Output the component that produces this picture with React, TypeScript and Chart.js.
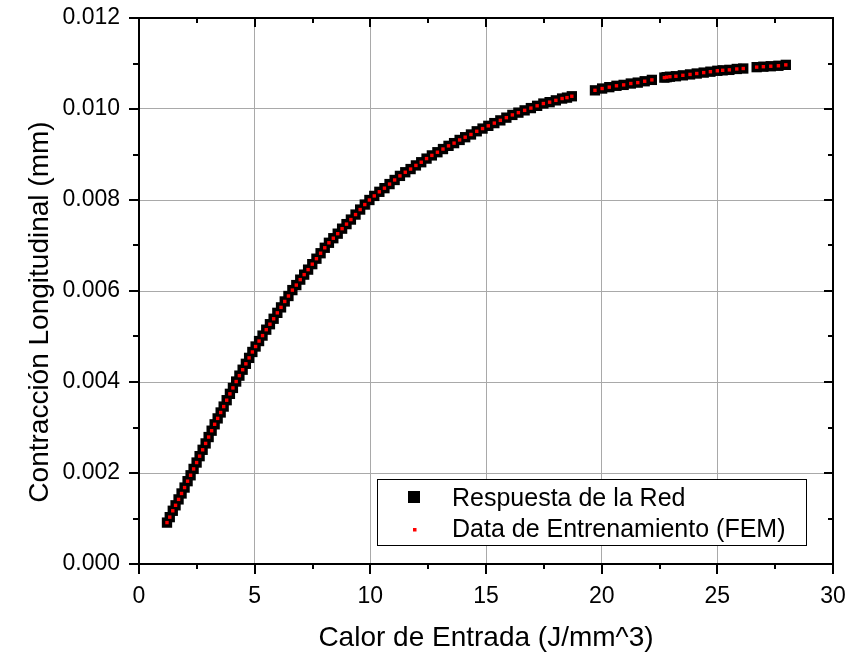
import React, { useEffect, useRef } from "react";
import { Chart, registerables } from "chart.js";

Chart.register(...registerables);

// Heat input (x) values
const heatInput = [
  1.21, 1.33, 1.46, 1.58, 1.71, 1.84, 1.97, 2.1, 2.23, 2.36, 2.49, 2.62, 2.75, 2.88, 3.01, 3.14, 3.27, 3.4, 3.53, 3.66,
  3.79, 3.93, 4.06, 4.2, 4.34, 4.48, 4.62, 4.76, 4.9,
  5.04, 5.19, 5.34, 5.5, 5.66, 5.82, 5.98, 6.14, 6.3, 6.46, 6.63, 6.8, 6.97, 7.14, 7.31, 7.49, 7.67, 7.85, 8.03, 8.21,
  8.4, 8.59, 8.78, 8.97, 9.16, 9.36, 9.56, 9.76, 9.96,
  10.17, 10.39, 10.61, 10.83, 11.05, 11.28, 11.51, 11.74, 11.97, 12.2, 12.43, 12.66, 12.9, 13.14, 13.38, 13.62, 13.86,
  14.1, 14.35, 14.6, 14.85,
  15.1, 15.36, 15.62, 15.88, 16.14, 16.4, 16.67, 16.94, 17.21, 17.48, 17.75, 18.02, 18.29, 18.5, 18.71,
  19.71, 20.02, 20.33, 20.64, 20.95, 21.26, 21.56, 21.86, 22.17,
  22.71, 22.81, 22.95, 23.21, 23.51, 23.82, 24.11, 24.41, 24.7, 25.0, 25.23, 25.52, 25.84, 26.12,
  26.7, 26.99, 27.31, 27.64, 27.96,
];

// FEM training data (red dots)
const contractionFEM = [
  0.00091, 0.00103, 0.00117, 0.00129, 0.00142, 0.00155, 0.00168, 0.00182, 0.00195, 0.00209, 0.00223, 0.00237, 0.00251,
  0.00265, 0.00279, 0.00293, 0.00307, 0.0032, 0.00333, 0.00346, 0.0036, 0.00374, 0.00387, 0.00401, 0.00414, 0.00427,
  0.0044, 0.00453, 0.00466,
  0.00478, 0.0049, 0.00502, 0.00515, 0.00527, 0.00539, 0.00552, 0.00564, 0.00577, 0.00589, 0.00602, 0.00613, 0.00625,
  0.00636, 0.00647, 0.00659, 0.00671, 0.00683, 0.00695, 0.00706, 0.00716, 0.00726, 0.00737, 0.00747, 0.00757, 0.00768,
  0.00779, 0.0079, 0.008,
  0.00809, 0.00818, 0.00826, 0.00835, 0.00844, 0.00853, 0.00861, 0.00868, 0.00876, 0.00883, 0.00891, 0.00898, 0.00905,
  0.00912, 0.00919, 0.00925, 0.00932, 0.00938, 0.00944, 0.00951, 0.00957,
  0.00963, 0.00969, 0.00975, 0.00981, 0.00987, 0.00992, 0.00997, 0.01002, 0.01007, 0.01012, 0.01015, 0.01019, 0.01023,
  0.01025, 0.01028,
  0.01041, 0.01045, 0.01048, 0.01051, 0.01053, 0.01056, 0.01058, 0.01061, 0.01064,
  0.01069, 0.0107, 0.01071, 0.01072, 0.01074, 0.01076, 0.01078, 0.0108, 0.01082, 0.01084, 0.01085, 0.01086, 0.01088,
  0.01089,
  0.01092, 0.01093, 0.01094, 0.01095, 0.01097,
];

// Network response (black squares) — coincides with the FEM data in the picture
const contractionNet = [
  0.00091, 0.00103, 0.00117, 0.00129, 0.00142, 0.00155, 0.00168, 0.00182, 0.00195, 0.00209, 0.00223, 0.00237, 0.00251,
  0.00265, 0.00279, 0.00293, 0.00307, 0.0032, 0.00333, 0.00346, 0.0036, 0.00374, 0.00387, 0.00401, 0.00414, 0.00427,
  0.0044, 0.00453, 0.00466,
  0.00478, 0.0049, 0.00502, 0.00515, 0.00527, 0.00539, 0.00552, 0.00564, 0.00577, 0.00589, 0.00602, 0.00613, 0.00625,
  0.00636, 0.00647, 0.00659, 0.00671, 0.00683, 0.00695, 0.00706, 0.00716, 0.00726, 0.00737, 0.00747, 0.00757, 0.00768,
  0.00779, 0.0079, 0.008,
  0.00809, 0.00818, 0.00826, 0.00835, 0.00844, 0.00853, 0.00861, 0.00868, 0.00876, 0.00883, 0.00891, 0.00898, 0.00905,
  0.00912, 0.00919, 0.00925, 0.00932, 0.00938, 0.00944, 0.00951, 0.00957,
  0.00963, 0.00969, 0.00975, 0.00981, 0.00987, 0.00992, 0.00997, 0.01002, 0.01007, 0.01012, 0.01015, 0.01019, 0.01023,
  0.01025, 0.01028,
  0.01041, 0.01045, 0.01048, 0.01051, 0.01053, 0.01056, 0.01058, 0.01061, 0.01064,
  0.01069, 0.0107, 0.01071, 0.01072, 0.01074, 0.01076, 0.01078, 0.0108, 0.01082, 0.01084, 0.01085, 0.01086, 0.01088,
  0.01089,
  0.01092, 0.01093, 0.01094, 0.01095, 0.01097,
];

const xMajorTicks = [0, 5, 10, 15, 20, 25, 30];
const xMinorTicks = [2.5, 7.5, 12.5, 17.5, 22.5, 27.5];
const yMajorTicks = [0, 0.002, 0.004, 0.006, 0.008, 0.01, 0.012];
const yMinorTicks = [0.001, 0.003, 0.005, 0.007, 0.009, 0.011];

const xTitle = "Calor de Entrada (J/mm^3)";
const yTitle = "Contracción Longitudinal (mm)";
const netLabel = "Respuesta de la Red";
const femLabel = "Data de Entrenamiento (FEM)";

const FONT = "'Liberation Sans', Arial, Helvetica, sans-serif";

const frameAndLegend = {
  id: "frameAndLegend",
  afterDraw(chart: any) {
    const { ctx, chartArea: a, scales } = chart;
    const xs = scales.x;
    const ys = scales.y;
    ctx.save();
    // frame
    ctx.strokeStyle = "#000";
    ctx.lineWidth = 2;
    ctx.strokeRect(a.left, a.top, a.right - a.left, a.bottom - a.top);
    // ticks
    ctx.beginPath();
    const seg = (x1: number, y1: number, x2: number, y2: number) => {
      ctx.moveTo(x1, y1);
      ctx.lineTo(x2, y2);
    };
    xMajorTicks.forEach((v) => {
      const p = Math.round(xs.getPixelForValue(v));
      seg(p, a.bottom, p, a.bottom + 10);
      seg(p, a.top, p, a.top + 9);
    });
    xMinorTicks.forEach((v) => {
      const p = Math.round(xs.getPixelForValue(v));
      seg(p, a.bottom, p, a.bottom + 5);
      seg(p, a.top, p, a.top + 5);
    });
    yMajorTicks.forEach((v) => {
      const p = Math.round(ys.getPixelForValue(v));
      seg(a.left - 10, p, a.left, p);
      seg(a.right - 9, p, a.right, p);
    });
    yMinorTicks.forEach((v) => {
      const p = Math.round(ys.getPixelForValue(v));
      seg(a.left - 6, p, a.left, p);
      seg(a.right - 5, p, a.right, p);
    });
    ctx.stroke();

    // y title (drawn manually to match its offset position)
    ctx.fillStyle = "#000";
    ctx.font = `28px ${FONT}`;
    ctx.textAlign = "center";
    ctx.textBaseline = "middle";
    ctx.translate(40, 312);
    ctx.rotate(-Math.PI / 2);
    ctx.fillText(yTitle, 0, 0);
    ctx.setTransform(1, 0, 0, 1, 0, 0);

    // legend box (bottom-right inside the plot)
    const bx = a.left + 238;
    const by = a.bottom - 85;
    const bw = 429;
    const bh = 66;
    ctx.fillStyle = "#fff";
    ctx.fillRect(bx, by, bw, bh);
    ctx.lineWidth = 1;
    ctx.strokeStyle = "#000";
    ctx.strokeRect(bx + 0.5, by + 0.5, bw, bh);
    const ds = chart.data.datasets;
    // row 1: network
    ctx.fillStyle = ds[1].backgroundColor;
    ctx.fillRect(bx + 31, by + 12, 12, 12);
    // row 2: FEM
    ctx.fillStyle = ds[0].backgroundColor;
    ctx.fillRect(bx + 36, by + 49, 3.5, 3.5);
    ctx.fillStyle = "#000";
    ctx.font = `25px ${FONT}`;
    ctx.textAlign = "left";
    ctx.textBaseline = "alphabetic";
    ctx.fillText(ds[1].label, bx + 75, by + 27);
    ctx.fillText(ds[0].label, bx + 75, by + 58);
    ctx.restore();
  },
};

export default function App() {
  const ref = useRef<HTMLCanvasElement | null>(null);

  useEffect(() => {
    if (!ref.current) return;
    const chart = new Chart(ref.current, {
      type: "scatter",
      data: {
        datasets: [
          {
            label: femLabel,
            data: heatInput.map((x, i) => ({ x, y: contractionFEM[i] })),
            pointStyle: "rect",
            pointRadius: 2.4,
            pointHoverRadius: 2.4,
            backgroundColor: "#ff0000",
            borderColor: "#ff0000",
            borderWidth: 0,
            order: 1,
          },
          {
            label: netLabel,
            data: heatInput.map((x, i) => ({ x, y: contractionNet[i] })),
            pointStyle: "rect",
            pointRadius: 7.3,
            pointHoverRadius: 7.3,
            backgroundColor: "#000000",
            borderColor: "#000000",
            borderWidth: 0,
            order: 2,
          },
        ],
      },
      options: {
        animation: false,
        responsive: false,
        devicePixelRatio: 1,
        layout: { padding: { top: 18, right: 28, left: 0, bottom: 0 } },
        plugins: {
          legend: { display: false },
          tooltip: { enabled: false },
        },
        scales: {
          x: {
            type: "linear",
            position: "bottom",
            min: 0,
            max: 30,
            ticks: {
              stepSize: 5,
              color: "#000",
              font: { family: FONT, size: 23 },
              padding: 19,
              maxRotation: 0,
              autoSkip: false,
            },
            grid: { color: "#a9a9a9", lineWidth: 1, drawTicks: false },
            border: { display: false },
            title: {
              display: true,
              text: xTitle,
              color: "#000",
              font: { family: FONT, size: 28 },
              padding: { top: 0, bottom: 0 },
            },
            afterFit: (s: any) => {
              s.height = 91;
              s.paddingLeft = 0;
              s.paddingRight = 0;
            },
          },
          y: {
            type: "linear",
            position: "left",
            min: 0,
            max: 0.012,
            ticks: {
              stepSize: 0.002,
              color: "#000",
              font: { family: FONT, size: 23 },
              padding: 19,
              callback: (v: any) => Number(v).toFixed(3),
            },
            grid: { color: "#a9a9a9", lineWidth: 1, drawTicks: false },
            border: { display: false },
            title: { display: false },
            afterFit: (s: any) => {
              s.width = 139;
              s.paddingTop = 0;
              s.paddingBottom = 0;
            },
          },
        },
      },
      plugins: [frameAndLegend],
    });
    return () => chart.destroy();
  }, []);

  return (
    <div style={{ position: "absolute", left: 0, top: 0, width: 861, height: 655, background: "#fff" }}>
      <canvas ref={ref} width={861} height={655} style={{ display: "block" }} />
    </div>
  );
}
